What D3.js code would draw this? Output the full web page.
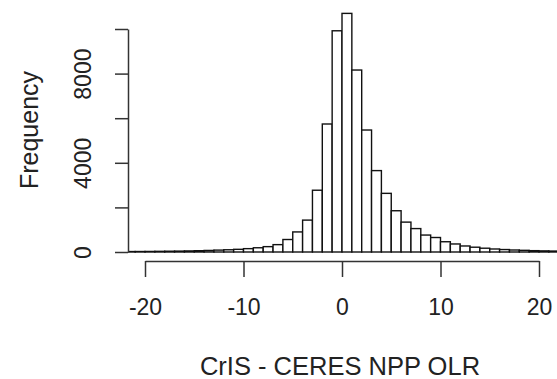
<!DOCTYPE html>
<html>
<head>
<meta charset="utf-8">
<script src="https://cdn.jsdelivr.net/npm/d3@7"></script>
<style>
  html, body { margin: 0; padding: 0; background: #fff; }
  svg { display: block; font-family: "Liberation Sans", Arial, Helvetica, sans-serif; }
</style>
</head>
<body>
<svg id="chart" width="557" height="379"></svg>
<script>
// Histogram bins (left edges, width 1) and counts
const binStarts = [-22,-21,-20,-19,-18,-17,-16,-15,-14,-13,-12,-11,-10,-9,-8,-7,-6,-5,-4,-3,-2,-1,
                   0,1,2,3,4,5,6,7,8,9,10,11,12,13,14,15,16,17,18,19,20,21];
const counts = [20,22,25,30,35,40,48,58,70,85,100,120,150,190,240,330,560,900,1430,2770,5740,9920,
                10700,8160,5470,3650,2630,1850,1340,1050,760,650,460,360,270,215,170,135,110,90,75,60,50,42];
const binWidth = 1;
const xTicks = [-20, -10, 0, 10, 20];
const xTickLabels = ["-20", "-10", "0", "10", "20"];
const yTicks = [0, 2000, 4000, 6000, 8000, 10000];
const yTickLabels = ["0", "", "4000", "", "8000", ""];
const xTitle = "CrIS - CERES NPP OLR";
const yTitle = "Frequency";

const svg = d3.select("#chart");
const W = 557, H = 379;

const x = d3.scaleLinear().domain([-20, 20]).range([145, 539]);
const y = d3.scaleLinear().domain([0, 10000]).range([252, 29]);

const plotLeft = 128, plotRight = W;

svg.append("defs").append("clipPath").attr("id", "plotclip")
  .append("rect").attr("x", plotLeft).attr("y", 0).attr("width", plotRight - plotLeft).attr("height", 260);

const bins = binStarts.map((b, i) => ({ x0: b, x1: b + binWidth, n: counts[i] }));

svg.append("g").attr("clip-path", "url(#plotclip)")
  .selectAll("rect").data(bins).join("rect")
  .attr("x", d => x(d.x0))
  .attr("y", d => y(d.n))
  .attr("width", d => x(d.x1) - x(d.x0))
  .attr("height", d => y(0) - y(d.n))
  .attr("fill", "#fff")
  .attr("stroke", "#111")
  .attr("stroke-width", 1.4);

// Y axis
const yAxis = svg.append("g")
  .attr("transform", `translate(${plotLeft},0)`)
  .call(d3.axisLeft(y).tickValues(yTicks).tickSize(13).tickSizeOuter(0)
        .tickFormat((d, i) => yTickLabels[i]));
yAxis.select(".domain").attr("stroke", "#333").attr("stroke-width", 1.5);
yAxis.selectAll(".tick line").attr("stroke", "#333").attr("stroke-width", 1.5);
yAxis.selectAll(".tick text")
  .attr("x", null).attr("dy", null).attr("y", null)
  .attr("transform", "translate(-37,0) rotate(-90)")
  .attr("text-anchor", "middle")
  .attr("font-size", 23)
  .attr("font-family", null)
  .attr("fill", "#222");

// X axis
const xAxis = svg.append("g")
  .attr("transform", "translate(0,261)")
  .call(d3.axisBottom(x).tickValues(xTicks).tickSize(16).tickSizeOuter(0)
        .tickFormat((d, i) => xTickLabels[i]));
xAxis.select(".domain").attr("stroke", "#333").attr("stroke-width", 1.5);
xAxis.selectAll(".tick line").attr("stroke", "#333").attr("stroke-width", 1.5);
xAxis.selectAll(".tick text")
  .attr("y", 54).attr("dy", null)
  .attr("text-anchor", "middle")
  .attr("font-size", 23)
  .attr("font-family", null)
  .attr("fill", "#222");

// Titles
svg.append("text")
  .attr("transform", "translate(340,375)")
  .attr("text-anchor", "middle")
  .attr("font-size", 25.5)
  .attr("fill", "#222")
  .text(xTitle);

svg.append("text")
  .attr("transform", "translate(38,130) rotate(-90)")
  .attr("text-anchor", "middle")
  .attr("font-size", 25)
  .attr("fill", "#222")
  .text(yTitle);
</script>
</body>
</html>
